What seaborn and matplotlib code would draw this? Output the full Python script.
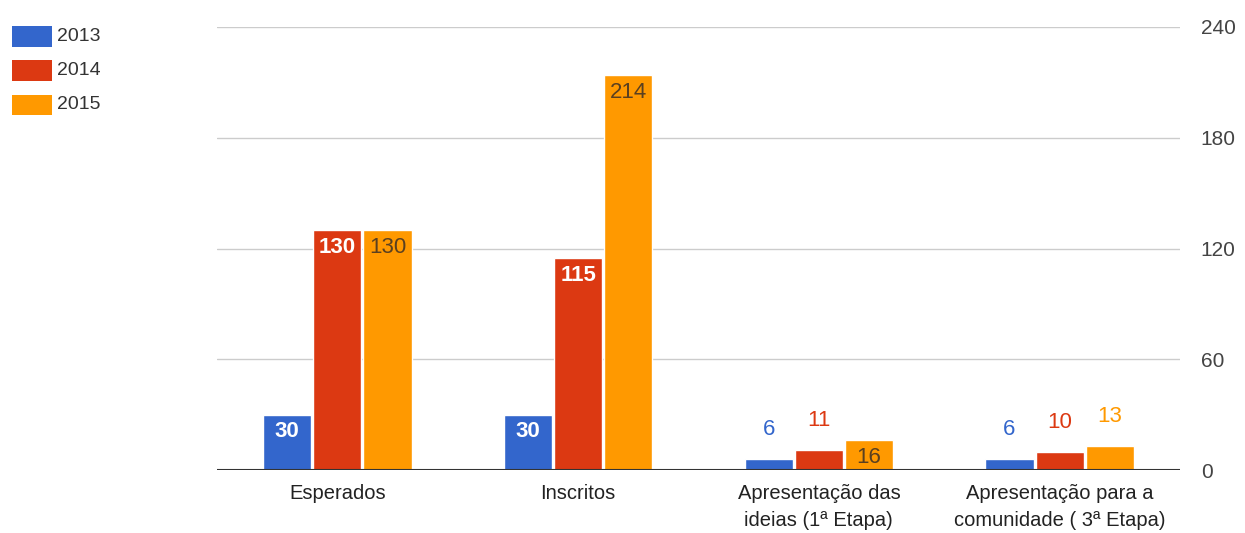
import matplotlib
matplotlib.use("Agg")
import matplotlib.pyplot as plt
import seaborn as sns
import pandas as pd
from matplotlib.patches import Rectangle

categories = ["Esperados", "Inscritos", "Apresentação das\nideias (1ª Etapa)",
              "Apresentação para a\ncomunidade ( 3ª Etapa)"]
years = ["2013", "2014", "2015"]
values_2013 = [30, 30, 6, 6]
values_2014 = [130, 115, 11, 10]
values_2015 = [130, 214, 16, 13]
y_ticks = [0, 60, 120, 180, 240]

colors = ["#3366CC", "#DC3912", "#FF9900"]
inside_text = ["white", "white", "#5a4020"]

rows = []
for yr, vals in zip(years, [values_2013, values_2014, values_2015]):
    for c, v in zip(categories, vals):
        rows.append({"categoria": c, "ano": yr, "valor": v})
df = pd.DataFrame(rows)

sns.set_style("white")
plt.rcParams["font.family"] = ["Liberation Sans", "DejaVu Sans"]

W, H = 1245, 533
fig = plt.figure(figsize=(W / 100, H / 100), dpi=100)
ax = fig.add_axes([217/W, 1-470/H, (1180-217)/W, (470-27)/H])

sns.barplot(data=df, x="categoria", y="valor", hue="ano", order=categories,
            hue_order=years, palette=colors, width=0.625, gap=0.04,
            saturation=1, ax=ax, legend=False, errorbar=None)

ax.set_ylim(0, 240)
ax.set_xlim(-0.5, len(categories) - 0.5)
ax.set_yticks(y_ticks)
ax.yaxis.tick_right()
ax.tick_params(axis="y", length=0, pad=15, labelsize=15, labelcolor="#444444")
ax.tick_params(axis="x", length=0, pad=10, labelsize=14.5, labelcolor="#222222")
for lbl in ax.get_xticklabels():
    lbl.set_linespacing(1.55)
ax.grid(axis="y", color="#cccccc", linewidth=1)
ax.set_axisbelow(True)
for s in ax.spines.values():
    s.set_visible(False)
ax.axhline(0, color="#333333", linewidth=1.5, zorder=5)
ax.set_xlabel("")
ax.set_ylabel("")

for i, cont in enumerate(ax.containers):
    for bar in cont:
        h = bar.get_height()
        xc = bar.get_x() + bar.get_width() / 2
        label = f"{int(round(h))}"
        if h >= 16:
            bold = i < 2
            ax.annotate(label, (xc, h), xytext=(0, -12.5), textcoords="offset points",
                        ha="center", va="center", fontsize=16,
                        color=inside_text[i], fontweight="bold" if bold else "normal")
        else:
            ax.annotate(label, (xc, h), xytext=(0, 21), textcoords="offset points",
                        ha="center", va="center", fontsize=16, color=colors[i])

# legend drawn in figure pixel space
for k, (yr, c) in enumerate(zip(years, colors)):
    yc = 36.5 + k * 34
    fig.add_artist(Rectangle((12 / W, 1 - (yc + 10) / H), 40 / W, 20 / H,
                             transform=fig.transFigure, facecolor=c,
                             edgecolor="none"))
    fig.text(57 / W, 1 - yc / H, yr, ha="left", va="center", fontsize=14,
             color="#333333")

fig.savefig("out.png", dpi=100)
